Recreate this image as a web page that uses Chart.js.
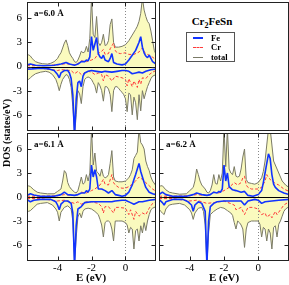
<!DOCTYPE html>
<html><head><meta charset="utf-8">
<script src="https://cdn.jsdelivr.net/npm/chart.js@4/dist/chart.umd.min.js"></script>
<style>
html,body{margin:0;padding:0;background:#fff;}
body{width:289px;height:285px;position:relative;overflow:hidden;font-family:"Liberation Serif","DejaVu Serif",serif;}
canvas{position:absolute;}
.t{position:absolute;font-weight:bold;white-space:nowrap;color:#000;line-height:1;}
.ctr{transform:translate(-50%,-50%);}
.lg{position:absolute;}
</style></head><body>
<canvas id="p60" width="157" height="132" style="left:0;top:0"></canvas>
<canvas id="p61" width="157" height="153" style="left:0;top:132px"></canvas>
<canvas id="p62" width="132" height="153" style="left:157px;top:132px"></canvas>
<div style="position:absolute;left:159px;top:2px;width:130px;height:129px;border:1px solid #222;box-sizing:border-box"></div>
<div class="t ctr" style="left:212px;top:23px;font-size:11px">Cr<sub style="font-size:8px;vertical-align:-3px">2</sub>FeSn</div>
<div style="position:absolute;left:186px;top:32px;width:49px;height:30px;border:1px solid #555;box-sizing:border-box"></div>
<div class="lg" style="left:193px;top:37px;width:10px;border-top:2px solid #1133ff"></div>
<div class="lg" style="left:193px;top:47px;width:10px;border-top:1px dashed #ff3b3b"></div>
<div class="lg" style="left:193px;top:57px;width:10px;border-top:1px solid #7a7a66"></div>
<div class="t" style="left:211px;top:33.5px;font-size:8.5px">Fe</div>
<div class="t" style="left:211px;top:43px;font-size:8.5px">Cr</div>
<div class="t" style="left:211px;top:52.5px;font-size:8.5px">total</div>
<div class="t" style="left:34px;top:9px;font-size:9px">a=6.0 Å</div>
<div class="t" style="left:34px;top:140px;font-size:9px">a=6.1 Å</div>
<div class="t" style="left:166px;top:140px;font-size:9px">a=6.2 Å</div>
<div class="t ctr" style="left:7px;top:133px;font-size:10px;transform:translate(-50%,-50%) rotate(-90deg)">DOS (states/eV)</div>
<div class="t ctr" style="left:91px;top:277px;font-size:11px">E (eV)</div>
<div class="t ctr" style="left:224px;top:277px;font-size:11px">E (eV)</div>
<script>
const xTicks = [-4, -2, 0];
const yTicks = [-6, -3, 0, 3, 6];
const eRange = [-5.8, 1.8];
const dosRange = [-8, 8];

// a = 6.0 A
const tot60Up = [[-5.8,1.3],[-5.7,1.45],[-5.6,1.3],[-5.5,1.0],[-5.4,0.8],[-5.3,0.6],[-5.1,0.45],[-4.9,0.35],[-4.6,0.3],[-4.4,0.4],[-4.2,0.6],[-4.0,1.0],[-3.9,1.4],[-3.8,1.7],[-3.7,2.3],[-3.6,2.9],[-3.5,3.3],[-3.4,2.6],[-3.3,1.7],[-3.2,1.3],[-3.1,1.0],[-3.0,0.6],[-2.9,0.5],[-2.8,0.8],[-2.7,1.3],[-2.6,1.9],[-2.5,1.7],[-2.4,1.8],[-2.3,2.5],[-2.2,1.8],[-2.1,3.5],[-2.0,8.5],[-1.9,4.0],[-1.8,3.6],[-1.7,6.2],[-1.6,3.0],[-1.5,2.6],[-1.4,3.0],[-1.3,4.0],[-1.2,2.6],[-1.1,2.7],[-1.0,3.2],[-0.9,5.2],[-0.8,5.9],[-0.7,3.0],[-0.6,2.4],[-0.4,2.4],[-0.2,2.5],[0.0,2.7],[0.2,3.2],[0.4,3.9],[0.6,4.6],[0.7,5.0],[0.8,5.6],[0.9,6.6],[1.0,8.5],[1.1,7.0],[1.2,6.2],[1.3,5.6],[1.4,5.3],[1.5,4.4],[1.6,3.2],[1.7,2.0],[1.8,1.5]];
const fe60Up = [[-5.8,0.2],[-5.6,0.3],[-5.3,0.15],[-4.8,0.1],[-4.2,0.15],[-3.8,0.3],[-3.5,0.5],[-3.3,0.3],[-3.0,0.15],[-2.8,0.3],[-2.6,0.6],[-2.4,0.6],[-2.3,0.8],[-2.2,0.7],[-2.1,1.2],[-2.0,3.7],[-1.9,2.0],[-1.8,2.8],[-1.7,3.6],[-1.6,1.6],[-1.5,1.2],[-1.4,1.0],[-1.3,1.4],[-1.2,0.8],[-1.0,0.6],[-0.9,1.0],[-0.8,1.6],[-0.7,0.5],[-0.5,0.3],[-0.2,0.2],[0.0,0.3],[0.2,0.8],[0.4,1.4],[0.6,2.0],[0.7,2.5],[0.8,3.0],[0.9,3.7],[1.0,2.4],[1.1,1.7],[1.2,1.3],[1.3,1.1],[1.4,1.4],[1.5,1.0],[1.6,0.6],[1.8,0.3]];
const cr60Up = [[-5.8,0.1],[-5.0,0.1],[-4.0,0.2],[-3.5,0.35],[-3.2,0.25],[-2.9,0.2],[-2.6,0.7],[-2.3,0.6],[-2.0,0.8],[-1.8,1.0],[-1.6,1.6],[-1.4,1.9],[-1.3,2.1],[-1.2,1.5],[-1.0,1.6],[-0.9,2.2],[-0.7,2.9],[-0.6,2.0],[-0.5,1.7],[-0.3,1.6],[0.0,1.7],[0.2,1.5],[0.5,1.5],[0.8,1.8],[1.0,2.3],[1.1,1.8],[1.3,1.5],[1.5,1.3],[1.7,1.0],[1.8,0.8]];
const tot60Dn = [[-5.8,-1.5],[-5.7,-1.6],[-5.6,-1.4],[-5.5,-1.2],[-5.3,-0.9],[-5.0,-0.7],[-4.7,-0.6],[-4.5,-0.7],[-4.3,-1.0],[-4.1,-1.6],[-4.0,-2.2],[-3.9,-3.0],[-3.8,-2.2],[-3.7,-1.6],[-3.6,-1.3],[-3.5,-1.0],[-3.4,-1.1],[-3.3,-1.6],[-3.2,-2.6],[-3.1,-5.0],[-3.0,-8.5],[-2.9,-6.0],[-2.8,-3.0],[-2.7,-3.4],[-2.6,-4.6],[-2.5,-2.5],[-2.4,-1.6],[-2.3,-1.4],[-2.2,-1.3],[-2.1,-1.4],[-2.0,-1.6],[-1.9,-2.0],[-1.8,-2.4],[-1.7,-3.3],[-1.6,-2.0],[-1.5,-2.4],[-1.4,-3.0],[-1.3,-4.3],[-1.2,-2.5],[-1.1,-2.5],[-1.0,-2.8],[-0.9,-3.5],[-0.8,-5.6],[-0.7,-3.0],[-0.6,-2.5],[-0.5,-2.5],[-0.4,-2.7],[-0.3,-3.0],[-0.2,-3.2],[-0.1,-3.5],[0.0,-4.0],[0.1,-5.6],[0.2,-3.3],[0.3,-3.5],[0.4,-6.0],[0.5,-3.8],[0.6,-4.5],[0.7,-6.6],[0.8,-3.5],[0.9,-5.5],[1.0,-3.0],[1.1,-4.0],[1.2,-3.2],[1.3,-2.5],[1.4,-2.0],[1.5,-1.5],[1.6,-1.2],[1.8,-1.0]];
const fe60Dn = [[-5.8,-0.35],[-5.5,-0.3],[-5.0,-0.2],[-4.5,-0.3],[-4.2,-0.5],[-4.0,-1.0],[-3.9,-1.4],[-3.8,-0.8],[-3.6,-0.5],[-3.4,-0.5],[-3.3,-0.8],[-3.2,-1.5],[-3.1,-3.5],[-3.0,-8.5],[-2.9,-4.0],[-2.8,-2.0],[-2.7,-1.8],[-2.6,-2.5],[-2.5,-1.2],[-2.4,-0.8],[-2.2,-0.6],[-2.0,-0.5],[-1.7,-0.6],[-1.4,-0.7],[-1.2,-0.6],[-0.8,-0.7],[-0.5,-0.6],[-0.2,-0.5],[0.0,-0.5],[0.2,-0.6],[0.4,-0.9],[0.6,-0.8],[0.8,-0.7],[1.0,-0.8],[1.2,-0.6],[1.5,-0.4],[1.8,-0.3]];
const cr60Dn = [[-5.8,-0.2],[-5.0,-0.2],[-4.0,-0.5],[-3.8,-0.4],[-3.2,-0.5],[-3.0,-0.9],[-2.8,-0.6],[-2.6,-1.0],[-2.4,-0.8],[-2.2,-0.6],[-2.0,-0.7],[-1.8,-1.0],[-1.6,-0.8],[-1.4,-1.0],[-1.3,-1.8],[-1.2,-1.0],[-1.0,-1.2],[-0.8,-1.8],[-0.6,-1.2],[-0.4,-1.3],[-0.2,-1.4],[0.0,-1.6],[0.1,-2.4],[0.2,-1.5],[0.4,-2.5],[0.5,-1.8],[0.7,-2.6],[0.8,-1.6],[0.9,-2.2],[1.0,-1.4],[1.2,-1.5],[1.4,-1.0],[1.6,-0.7],[1.8,-0.5]];

// a = 6.1 A
const tot61Up = [[-5.8,1.2],[-5.7,1.4],[-5.6,1.3],[-5.4,0.9],[-5.2,0.6],[-5.0,0.5],[-4.6,0.4],[-4.2,0.4],[-4.0,0.7],[-3.8,1.0],[-3.7,2.0],[-3.6,3.3],[-3.5,3.0],[-3.4,1.8],[-3.3,1.3],[-3.2,1.0],[-3.0,0.6],[-2.9,0.5],[-2.8,0.8],[-2.7,1.6],[-2.6,2.5],[-2.5,1.6],[-2.4,1.8],[-2.3,2.8],[-2.2,2.0],[-2.1,3.0],[-2.0,8.5],[-1.9,4.0],[-1.8,5.5],[-1.7,3.2],[-1.6,3.0],[-1.5,2.6],[-1.4,3.5],[-1.3,2.6],[-1.2,2.4],[-1.1,2.5],[-1.0,2.8],[-0.9,4.2],[-0.8,5.8],[-0.7,2.5],[-0.6,2.0],[-0.4,1.9],[-0.2,1.9],[0.0,2.0],[0.2,2.4],[0.3,2.8],[0.4,3.4],[0.5,4.8],[0.6,5.2],[0.7,5.6],[0.8,8.5],[0.9,6.8],[1.0,6.5],[1.1,6.0],[1.2,4.5],[1.3,3.8],[1.4,3.3],[1.5,2.5],[1.6,2.0],[1.8,1.4]];
const fe61Up = [[-5.8,0.2],[-5.6,0.4],[-5.4,0.25],[-5.0,0.1],[-4.2,0.1],[-3.8,0.3],[-3.6,0.6],[-3.4,0.3],[-3.0,0.2],[-2.8,0.3],[-2.6,0.5],[-2.4,0.5],[-2.3,0.8],[-2.2,0.6],[-2.1,1.0],[-2.0,4.0],[-1.9,2.5],[-1.8,3.4],[-1.7,2.5],[-1.6,1.0],[-1.4,1.0],[-1.2,0.8],[-1.0,0.5],[-0.8,0.8],[-0.6,0.3],[-0.4,0.2],[-0.2,0.1],[0.0,0.2],[0.2,0.6],[0.4,1.5],[0.5,2.2],[0.6,2.8],[0.7,3.5],[0.8,4.2],[0.9,3.2],[1.0,2.5],[1.1,1.8],[1.2,1.2],[1.4,0.6],[1.6,0.4],[1.8,0.3]];
const cr61Up = [[-5.8,0.1],[-5.0,0.1],[-4.0,0.15],[-3.6,0.3],[-3.2,0.2],[-2.9,0.2],[-2.6,0.6],[-2.3,0.5],[-2.0,0.8],[-1.8,1.0],[-1.5,1.5],[-1.3,2.2],[-1.2,1.6],[-1.0,1.5],[-0.8,2.8],[-0.7,1.8],[-0.6,1.5],[-0.4,1.2],[-0.2,1.1],[0.0,1.1],[0.2,1.3],[0.4,1.6],[0.6,2.0],[0.8,2.5],[1.0,2.2],[1.2,1.8],[1.4,1.4],[1.6,1.0],[1.8,0.7]];
const tot61Dn = [[-5.8,-1.7],[-5.7,-1.8],[-5.6,-1.7],[-5.4,-1.3],[-5.2,-0.9],[-5.0,-0.8],[-4.6,-0.7],[-4.3,-1.0],[-4.1,-1.5],[-4.0,-1.9],[-3.9,-3.0],[-3.8,-1.9],[-3.6,-1.3],[-3.4,-1.1],[-3.2,-1.5],[-3.1,-3.0],[-3.0,-8.5],[-2.9,-5.0],[-2.8,-2.5],[-2.7,-2.0],[-2.6,-2.6],[-2.5,-1.8],[-2.4,-1.5],[-2.2,-1.4],[-2.0,-1.5],[-1.8,-1.8],[-1.6,-2.2],[-1.5,-2.8],[-1.4,-3.5],[-1.3,-5.0],[-1.2,-3.2],[-1.1,-3.0],[-1.0,-3.0],[-0.9,-3.2],[-0.8,-4.0],[-0.7,-5.5],[-0.6,-3.0],[-0.4,-3.0],[-0.2,-3.0],[0.0,-3.2],[0.1,-3.5],[0.2,-4.5],[0.3,-3.8],[0.4,-4.0],[0.5,-6.5],[0.6,-4.2],[0.7,-4.0],[0.8,-5.5],[0.9,-3.6],[1.0,-4.5],[1.1,-3.2],[1.2,-4.2],[1.3,-3.0],[1.4,-2.2],[1.5,-1.6],[1.6,-1.4],[1.8,-1.2]];
const fe61Dn = [[-5.8,-0.3],[-5.6,-0.6],[-5.4,-0.4],[-5.0,-0.3],[-4.4,-0.3],[-4.1,-0.6],[-4.0,-1.0],[-3.9,-1.6],[-3.8,-0.9],[-3.6,-0.5],[-3.4,-0.5],[-3.2,-0.8],[-3.1,-2.0],[-3.0,-8.5],[-2.9,-3.5],[-2.8,-1.5],[-2.6,-1.2],[-2.4,-0.7],[-2.0,-0.6],[-1.6,-0.6],[-1.2,-0.6],[-0.8,-0.6],[-0.6,-0.5],[-0.2,-0.4],[0.0,-0.4],[0.3,-0.7],[0.5,-0.9],[0.8,-0.6],[1.0,-0.6],[1.4,-0.4],[1.8,-0.3]];
const cr61Dn = [[-5.8,-0.2],[-5.0,-0.2],[-4.0,-0.5],[-3.6,-0.4],[-3.0,-0.8],[-2.8,-0.6],[-2.6,-0.9],[-2.3,-0.6],[-2.0,-0.6],[-1.6,-0.8],[-1.4,-1.2],[-1.3,-2.0],[-1.2,-1.2],[-1.0,-1.2],[-0.7,-2.0],[-0.6,-1.3],[-0.4,-1.3],[0.0,-1.4],[0.2,-2.2],[0.3,-1.6],[0.5,-2.8],[0.6,-1.8],[0.8,-2.4],[1.0,-2.0],[1.2,-2.2],[1.4,-1.4],[1.6,-0.8],[1.8,-0.6]];

// a = 6.2 A
const tot62Up = [[-5.8,1.2],[-5.7,1.4],[-5.6,1.4],[-5.4,0.9],[-5.2,0.6],[-5.0,0.5],[-4.6,0.35],[-4.2,0.4],[-4.0,0.8],[-3.8,1.2],[-3.7,2.0],[-3.6,3.5],[-3.5,2.8],[-3.4,2.0],[-3.3,1.5],[-3.1,1.0],[-3.0,0.6],[-2.9,0.5],[-2.8,0.8],[-2.7,1.5],[-2.6,2.8],[-2.5,1.7],[-2.4,1.6],[-2.3,2.8],[-2.2,2.0],[-2.1,3.0],[-2.0,8.5],[-1.9,3.8],[-1.8,8.5],[-1.7,3.5],[-1.6,3.0],[-1.5,2.8],[-1.4,3.8],[-1.3,2.6],[-1.2,2.5],[-1.1,2.6],[-1.0,3.5],[-0.9,5.0],[-0.8,6.0],[-0.7,2.2],[-0.6,1.8],[-0.4,1.7],[-0.2,1.6],[0.0,1.8],[0.2,2.4],[0.3,3.2],[0.4,4.5],[0.5,6.5],[0.6,8.5],[0.7,8.5],[0.8,6.5],[0.9,4.5],[1.0,4.0],[1.1,3.5],[1.2,3.0],[1.4,2.0],[1.6,1.5],[1.8,1.2]];
const fe62Up = [[-5.8,0.3],[-5.6,0.6],[-5.4,0.3],[-5.0,0.1],[-4.2,0.1],[-3.8,0.3],[-3.6,0.5],[-3.3,0.3],[-3.0,0.2],[-2.8,0.3],[-2.6,0.6],[-2.4,0.5],[-2.3,0.7],[-2.2,0.6],[-2.1,1.0],[-2.0,4.0],[-1.9,2.0],[-1.8,3.0],[-1.7,1.3],[-1.5,0.9],[-1.3,0.8],[-1.0,0.6],[-0.8,0.7],[-0.6,0.2],[-0.3,0.1],[0.0,0.3],[0.2,0.8],[0.3,1.8],[0.4,3.0],[0.5,4.2],[0.6,5.4],[0.7,4.8],[0.8,2.8],[0.9,1.6],[1.0,1.2],[1.2,0.8],[1.5,0.5],[1.8,0.3]];
const cr62Up = [[-5.8,0.1],[-5.0,0.1],[-4.0,0.15],[-3.6,0.3],[-3.2,0.2],[-2.9,0.2],[-2.6,0.6],[-2.3,0.5],[-2.0,0.8],[-1.7,1.2],[-1.4,1.8],[-1.2,1.5],[-1.0,1.8],[-0.9,2.4],[-0.8,2.6],[-0.7,1.5],[-0.6,1.2],[-0.4,1.0],[0.0,1.0],[0.2,1.2],[0.4,2.0],[0.5,2.8],[0.6,2.4],[0.8,2.0],[1.0,1.7],[1.2,1.5],[1.5,1.0],[1.8,0.7]];
const tot62Dn = [[-5.8,-1.5],[-5.7,-1.8],[-5.6,-2.0],[-5.5,-2.2],[-5.4,-1.5],[-5.2,-1.0],[-5.0,-0.9],[-4.6,-0.8],[-4.3,-1.0],[-4.0,-1.6],[-3.9,-2.0],[-3.8,-2.8],[-3.7,-2.0],[-3.5,-1.4],[-3.3,-1.3],[-3.2,-1.8],[-3.1,-3.5],[-3.0,-8.5],[-2.9,-4.5],[-2.8,-2.2],[-2.6,-1.8],[-2.4,-1.5],[-2.2,-1.3],[-2.0,-1.4],[-1.8,-1.7],[-1.6,-2.0],[-1.5,-2.3],[-1.4,-3.2],[-1.3,-4.0],[-1.2,-3.0],[-1.1,-3.2],[-1.0,-3.5],[-0.9,-4.0],[-0.8,-6.3],[-0.7,-4.0],[-0.6,-3.2],[-0.4,-3.0],[-0.2,-3.0],[0.0,-3.0],[0.1,-3.4],[0.2,-5.0],[0.3,-3.8],[0.4,-4.0],[0.5,-5.5],[0.6,-4.0],[0.7,-4.5],[0.8,-6.5],[0.9,-3.8],[1.0,-3.6],[1.1,-5.0],[1.2,-3.4],[1.3,-3.0],[1.4,-2.4],[1.5,-1.8],[1.6,-1.5],[1.8,-1.2]];
const fe62Dn = [[-5.8,-0.3],[-5.6,-0.7],[-5.5,-1.0],[-5.4,-0.6],[-5.0,-0.3],[-4.4,-0.3],[-4.1,-0.6],[-3.9,-1.0],[-3.8,-1.8],[-3.7,-1.0],[-3.5,-0.6],[-3.3,-0.8],[-3.1,-1.8],[-3.0,-8.5],[-2.9,-3.0],[-2.8,-1.2],[-2.6,-0.8],[-2.4,-0.6],[-2.0,-0.5],[-1.5,-0.5],[-1.0,-0.5],[-0.8,-1.0],[-0.6,-0.5],[-0.2,-0.3],[0.0,-0.4],[0.2,-0.8],[0.4,-0.6],[0.8,-0.5],[1.2,-0.4],[1.8,-0.3]];
const cr62Dn = [[-5.8,-0.2],[-5.0,-0.2],[-4.0,-0.5],[-3.6,-0.4],[-3.0,-0.8],[-2.6,-0.7],[-2.0,-0.5],[-1.4,-1.0],[-1.3,-1.6],[-1.0,-1.3],[-0.8,-2.2],[-0.6,-1.3],[-0.3,-1.3],[0.0,-1.5],[0.2,-2.2],[0.4,-2.0],[0.5,-2.5],[0.7,-2.2],[0.8,-2.6],[1.0,-1.8],[1.1,-2.2],[1.3,-1.6],[1.5,-1.0],[1.8,-0.6]];

const COLORS = {fe:'#1133ff', cr:'#ff3b3b', tot:'#7a7a66', fill:'#fafabe', frame:'#222'};

const framePlugin = {
  id:'frame',
  afterDatasetsDraw(chart){
    const {ctx, chartArea:a, scales:{x,y}} = chart;
    ctx.save();
    ctx.lineWidth = 1;
    const y0 = Math.round(y.getPixelForValue(0)) + 0.5;
    ctx.strokeStyle = '#000';
    ctx.beginPath(); ctx.moveTo(a.left, y0); ctx.lineTo(a.right, y0); ctx.stroke();
    const xf = Math.round(x.getPixelForValue(0)) + 0.5;
    ctx.strokeStyle = '#888'; ctx.setLineDash([1,2]);
    ctx.beginPath(); ctx.moveTo(xf, a.top); ctx.lineTo(xf, a.bottom); ctx.stroke();
    ctx.setLineDash([]);
    ctx.strokeStyle = COLORS.frame;
    const L = a.left + 0.5, R = a.right - 0.5, T = a.top + 0.5, B = a.bottom - 0.5;
    ctx.strokeRect(L, T, R - L, B - T);
    ctx.beginPath();
    yTicks.forEach(v => {
      const p = Math.round(y.getPixelForValue(v)) + 0.5;
      ctx.moveTo(L, p); ctx.lineTo(L + 4, p);
      ctx.moveTo(R, p); ctx.lineTo(R - 4, p);
    });
    xTicks.forEach(v => {
      const p = Math.round(x.getPixelForValue(v)) + 0.5;
      ctx.moveTo(p, B); ctx.lineTo(p, B - 4);
      ctx.moveTo(p, T); ctx.lineTo(p, T + 4);
    });
    ctx.stroke();
    ctx.restore();
  }
};

function toXY(d){ return d.map(p => ({x:p[0], y:p[1]})); }

function makeDatasets(feUp, feDn, crUp, crDn, totUp, totDn){
  const line = (d, c, w, dash) => ({data:toXY(d), borderColor:c, borderWidth:w, borderDash:dash || [], pointRadius:0, fill:false, tension:0, borderJoinStyle:'bevel'});
  const tot = d => ({data:toXY(d), borderColor:COLORS.tot, borderWidth:1, pointRadius:0, fill:'origin', backgroundColor:COLORS.fill, tension:0, borderJoinStyle:'bevel'});
  return [line(feUp, COLORS.fe, 1.6), line(feDn, COLORS.fe, 1.6),
          line(crUp, COLORS.cr, 1, [3,2]), line(crDn, COLORS.cr, 1, [3,2]),
          tot(totUp), tot(totDn)];
}

function makeChart(id, datasets, opt){
  return new Chart(document.getElementById(id), {
    type:'line',
    data:{datasets},
    options:{
      responsive:false, animation:false, events:[],
      layout:{padding:opt.pad},
      plugins:{legend:{display:false}, tooltip:{enabled:false}},
      scales:{
        x:{type:'linear', min:eRange[0], max:eRange[1], display:opt.showX,
           grid:{display:false, drawTicks:false}, border:{display:false},
           ticks:{font:{family:'Liberation Serif', size:11}, color:'#000', padding:1, maxRotation:0, autoSkip:false},
           afterBuildTicks:s => { s.ticks = xTicks.map(v => ({value:v})); },
           afterFit:s => { s.height = opt.showX ? 24 : 0; s.paddingLeft = 0; s.paddingRight = 0; }},
        y:{type:'linear', min:dosRange[0], max:dosRange[1], display:opt.showY,
           grid:{display:false, drawTicks:false}, border:{display:false},
           ticks:{font:{family:'Liberation Serif', size:11}, color:'#000', padding:5, autoSkip:false},
           afterBuildTicks:s => { s.ticks = yTicks.map(v => ({value:v})); },
           afterFit:s => { s.width = opt.showY ? 27 : 0; s.paddingTop = 0; s.paddingBottom = 0; }}
      }
    },
    plugins:[framePlugin]
  });
}

makeChart('p60', makeDatasets(fe60Up, fe60Dn, cr60Up, cr60Dn, tot60Up, tot60Dn), {showX:false, showY:true, pad:{top:2, bottom:1, left:0, right:1}});
makeChart('p61', makeDatasets(fe61Up, fe61Dn, cr61Up, cr61Dn, tot61Up, tot61Dn), {showX:true, showY:true, pad:{top:1, bottom:0, left:0, right:1}});
makeChart('p62', makeDatasets(fe62Up, fe62Dn, cr62Up, cr62Dn, tot62Up, tot62Dn), {showX:true, showY:false, pad:{top:1, bottom:0, left:2, right:0}});
</script>
</body></html>
